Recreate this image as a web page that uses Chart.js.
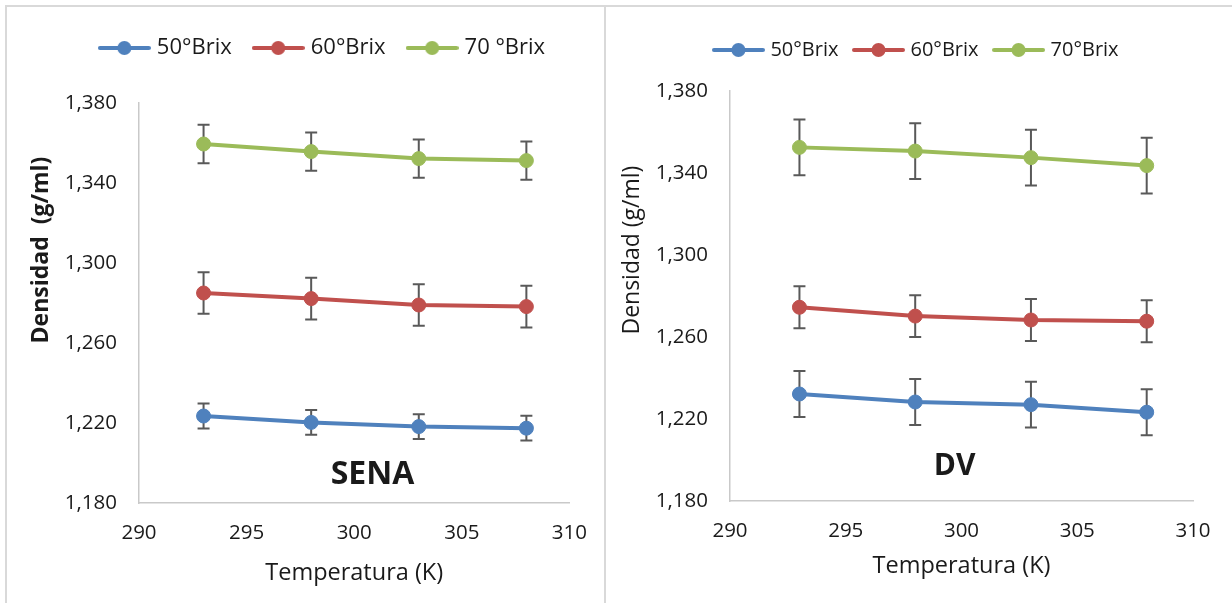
<!DOCTYPE html>
<html lang="es">
<head>
<meta charset="utf-8">
<title>Densidad vs Temperatura</title>
<script src="https://cdn.jsdelivr.net/npm/chart.js@4.4.1/dist/chart.umd.min.js"></script>
<style>
  html, body { margin: 0; padding: 0; background: #fff; }
  body { width: 1232px; height: 603px; position: relative; overflow: hidden; }
  .frame { position: absolute; left: 5px; top: 5px; width: 1300px; height: 700px; border: 2px solid #d9d9d9; box-sizing: border-box; }
  .divider { position: absolute; left: 604px; top: 5px; width: 2px; height: 700px; background: #d9d9d9; }
  .box { position: absolute; top: 5px; height: 598px; }
  #boxSena { left: 5px; width: 600px; }
  #boxDv { left: 605px; width: 627px; }
</style>
</head>
<body>
<div class="frame"></div>
<div class="divider"></div>
<div class="box" id="boxSena"><canvas id="chartSena"></canvas></div>
<div class="box" id="boxDv"><canvas id="chartDv"></canvas></div>

<script>
// data
const temps = [293, 298, 303, 308];
const xTicks = [290, 295, 300, 305, 310];
const yTicks = [1.18, 1.22, 1.26, 1.30, 1.34, 1.38];

const senaLabels = ['50°Brix', '60°Brix', '70 °Brix'];
const sena50 = [1.2235, 1.2203, 1.2182, 1.2174];
const sena60 = [1.2850, 1.2822, 1.2790, 1.2782];
const sena70 = [1.3595, 1.3557, 1.3522, 1.3512];
const senaErr50 = [0.0062, 0.0062, 0.0062, 0.0062];
const senaErr60 = [0.0104, 0.0104, 0.0104, 0.0104];
const senaErr70 = [0.0096, 0.0096, 0.0096, 0.0096];

const dvLabels = ['50°Brix', '60°Brix', '70°Brix'];
const dv50 = [1.2322, 1.2283, 1.2270, 1.2233];
const dv60 = [1.2745, 1.2702, 1.2683, 1.2677];
const dv70 = [1.3525, 1.3507, 1.3475, 1.3436];
const dvErr50 = [0.0112, 0.0112, 0.0112, 0.0112];
const dvErr60 = [0.0102, 0.0102, 0.0102, 0.0102];
const dvErr70 = [0.0136, 0.0136, 0.0136, 0.0136];

const colors = ['#4f81bd', '#c0504d', '#9bbb59'];
const textColor = '#1a1a1a';
const family = '"Open Sans", sans-serif';

// line + marker icon for the legend
function legendIcon(color) {
  const c = document.createElement('canvas');
  c.width = 53; c.height = 16;
  const g = c.getContext('2d');
  g.strokeStyle = color; g.lineWidth = 4; g.lineCap = 'round';
  g.beginPath(); g.moveTo(2, 8); g.lineTo(51, 8); g.stroke();
  g.fillStyle = color;
  g.beginPath(); g.arc(26.5, 8, 7, 0, Math.PI * 2); g.fill();
  return c;
}

// legend keeps a fixed height so the plot starts where it should
const legendHeight = {
  id: 'legendHeight',
  beforeLayout(chart, args, opts) {
    const lg = chart.legend;
    if (!lg || lg._fixedFit) return;
    const fit = lg.fit;
    lg.fit = function () { fit.call(this); this.height = opts.height; };
    lg._fixedFit = true;
  }
};

const errorBars = {
  id: 'errorBars',
  beforeDatasetsDraw(chart, args, opts) {
    const { ctx, scales: { x, y } } = chart;
    ctx.save();
    ctx.strokeStyle = opts.color;
    ctx.lineWidth = opts.width;
    chart.data.datasets.forEach(ds => {
      ds.data.forEach((pt, i) => {
        const e = ds.errors[i];
        const px = x.getPixelForValue(pt.x);
        const top = y.getPixelForValue(pt.y + e);
        const bot = y.getPixelForValue(pt.y - e);
        ctx.beginPath();
        ctx.moveTo(px, top); ctx.lineTo(px, bot);
        ctx.moveTo(px - opts.cap, top); ctx.lineTo(px + opts.cap, top);
        ctx.moveTo(px - opts.cap, bot); ctx.lineTo(px + opts.cap, bot);
        ctx.stroke();
      });
    });
    ctx.restore();
  }
};

// free text: y-axis title and the SENA / DV tag
const chartText = {
  id: 'chartText',
  afterDraw(chart, args, opts) {
    const { ctx, scales: { x, y } } = chart;
    (opts.items || []).forEach(t => {
      const px = t.xPixel !== undefined ? t.xPixel : x.getPixelForValue(t.x);
      const py = y.getPixelForValue(t.y);
      ctx.save();
      ctx.font = t.font;
      ctx.fillStyle = textColor;
      ctx.textAlign = 'center';
      ctx.textBaseline = 'middle';
      ctx.translate(px, py);
      if (t.rotate) ctx.rotate(t.rotate);
      ctx.fillText(t.text, 0, 0);
      ctx.restore();
    });
  }
};

function buildChart(id, labels, values, errors, look) {
  const datasets = values.map((vals, i) => ({
    label: labels[i],
    data: vals.map((v, j) => ({ x: temps[j], y: v })),
    errors: errors[i],
    borderColor: colors[i],
    backgroundColor: colors[i],
    borderWidth: 4,
    pointRadius: 7,
    pointHoverRadius: 7,
    pointBorderWidth: 1,
    pointBackgroundColor: colors[i],
    tension: 0
  }));

  return new Chart(document.getElementById(id), {
    type: 'line',
    data: { datasets },
    options: {
      responsive: true,
      maintainAspectRatio: false,
      animation: false,
      layout: { padding: look.padding },
      plugins: {
        legend: {
          position: 'top',
          labels: {
            usePointStyle: true,
            pointStyleWidth: look.legendBox,
            padding: look.legendPad,
            color: textColor,
            font: { family, size: look.legendSize },
            generateLabels(chart) {
              const items = Chart.defaults.plugins.legend.labels.generateLabels(chart);
              items.forEach((it, i) => { it.pointStyle = legendIcon(colors[i]); });
              return items;
            }
          }
        },
        tooltip: { enabled: false },
        legendHeight: { height: look.legendHeight },
        errorBars: { color: '#595959', width: 2, cap: 6 },
        chartText: { items: look.texts }
      },
      scales: {
        x: {
          type: 'linear',
          min: 290,
          max: 310,
          afterBuildTicks: s => { s.ticks = xTicks.map(v => ({ value: v })); },
          afterFit: s => { s.height = look.xHeight; },
          grid: { display: false, drawTicks: false },
          border: { display: true, color: '#c9c9c9', width: 1.5 },
          ticks: { padding: 18, color: textColor, font: { family, size: 20.5 } },
          title: {
            display: true,
            text: 'Temperatura (K)',
            color: textColor,
            font: { family, size: 23.5 },
            padding: { top: 0, bottom: look.xTitlePad }
          }
        },
        y: {
          type: 'linear',
          min: 1.18,
          max: 1.38,
          afterBuildTicks: s => { s.ticks = yTicks.map(v => ({ value: v })); },
          afterFit: s => { s.width = look.yWidth; },
          grid: { display: false, drawTicks: false },
          border: { display: true, color: '#c9c9c9', width: 1.5 },
          ticks: {
            padding: 22,
            color: textColor,
            font: { family, size: 20.5 },
            callback: v => v.toFixed(3).replace('.', ',')
          }
        }
      }
    },
    plugins: [legendHeight, errorBars, chartText]
  });
}

buildChart('chartSena', senaLabels, [sena50, sena60, sena70], [senaErr50, senaErr60, senaErr70], {
  padding: { left: 57, right: 19, top: 7, bottom: 0 },
  legendHeight: 91, legendPad: 25, legendBox: 43, legendSize: 22,
  yWidth: 77, xHeight: 100, xTitlePad: 16,
  texts: [
    { text: 'Densidad  (g/ml)', font: 'bold 23px ' + family, xPixel: 36, y: 1.3065, rotate: -Math.PI / 2 },
    { text: 'SENA', font: 'bold 32px ' + family, x: 300.85, y: 1.194 }
  ]
});

buildChart('chartDv', dvLabels, [dv50, dv60, dv70], [dvErr50, dvErr60, dvErr70], {
  padding: { left: 37, right: 39, top: 17, bottom: 0 },
  legendHeight: 69, legendPad: 18, legendBox: 44, legendSize: 20,
  yWidth: 88, xHeight: 102, xTitlePad: 23,
  texts: [
    { text: 'Densidad (g/ml)', font: '23px ' + family, xPixel: 27, y: 1.3024, rotate: -Math.PI / 2 },
    { text: 'DV', font: 'bold 30px ' + family, x: 299.7, y: 1.197 }
  ]
});
</script>
</body>
</html>
